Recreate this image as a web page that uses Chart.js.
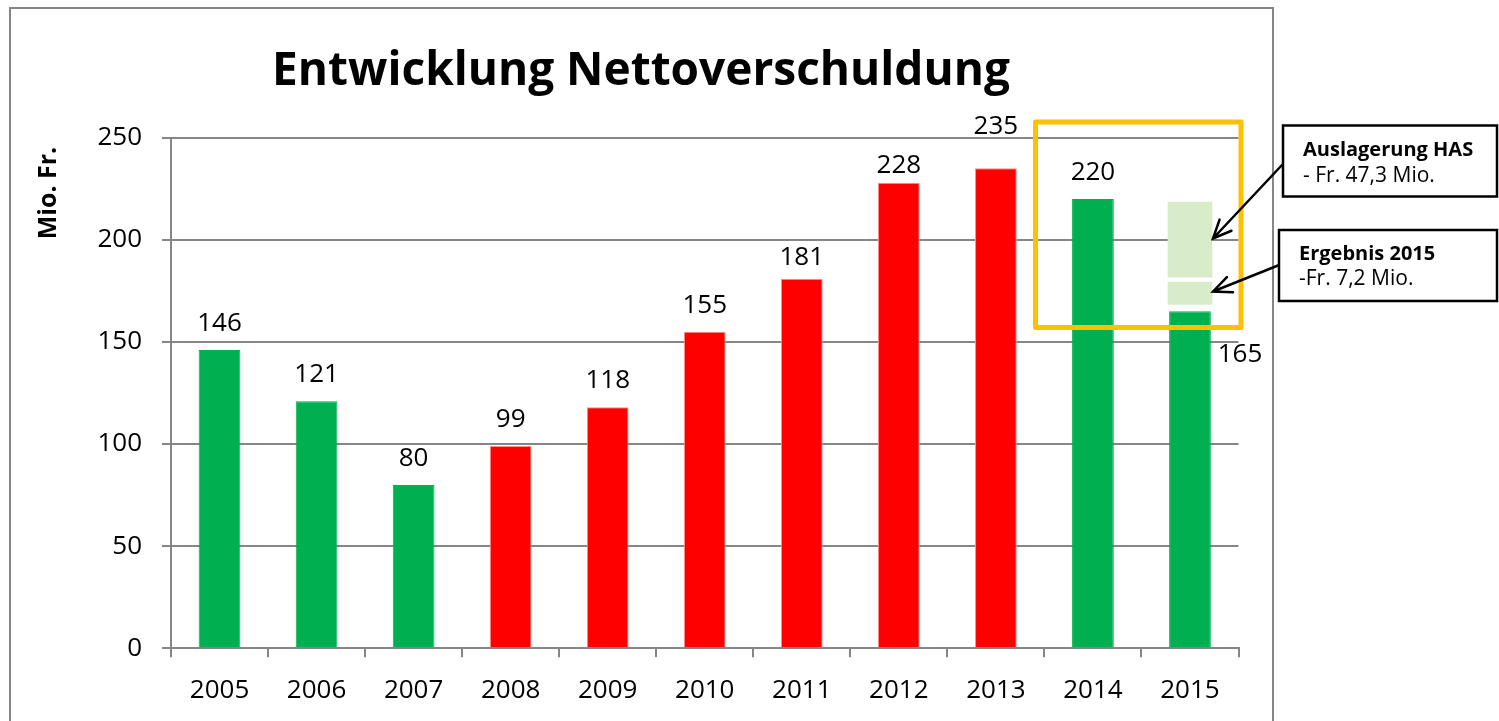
<!DOCTYPE html>
<html><head><meta charset="utf-8">
<script src="https://cdn.jsdelivr.net/npm/chart.js@4.4.0/dist/chart.umd.min.js"></script>
<style>html,body{margin:0;padding:0;background:#fff;overflow:hidden}</style>
</head><body>
<canvas id="c" width="1499" height="721"></canvas>
<script>
// ---- data ----
const years = ['2005','2006','2007','2008','2009','2010','2011','2012','2013','2014','2015'];
const nettoschuld = [146, 121, 80, 99, 118, 155, 181, 228, 235, 220, 165];
const yTicks = [0, 50, 100, 150, 200, 250];
const hasSegment = [181.5, 218.7];       // Auslagerung HAS (2015, light green)
const ergebnisSegment = [168.2, 179.5];  // Ergebnis 2015 (light green)
const titleText = 'Entwicklung Nettoverschuldung';
const yTitle = 'Mio. Fr.';
const note1 = ['Auslagerung HAS', '- Fr. 47,3 Mio.'];
const note2 = ['Ergebnis 2015', '-Fr. 7,2 Mio.'];

// ---- styles ----
const GREEN = '#00B050', RED = '#FF0000', LIGHT = '#D8ECC9', GRID = '#868686', ORANGE = '#FFC000';
const FONT = 'Open Sans';
const barColors = nettoschuld.map((v, i) => (i > 0 && v > nettoschuld[i - 1]) ? RED : GREEN);
const borderColors = barColors.map(c => c === RED ? '#FF8C8C' : GREEN);
const lastIdx = years.length - 1;

const overlay = {
  id: 'overlay',
  beforeDraw(chart) {
    const ctx = chart.ctx;
    ctx.save();
    ctx.fillStyle = '#fff';
    ctx.fillRect(0, 0, chart.width, chart.height);
    ctx.strokeStyle = GRID; ctx.lineWidth = 2;
    ctx.beginPath();
    ctx.moveTo(10, 722); ctx.lineTo(10, 8); ctx.lineTo(1273, 8); ctx.lineTo(1273, 722);
    ctx.stroke();
    ctx.restore();
  },
  afterDatasetsDraw(chart) {
    const ctx = chart.ctx;
    const meta = chart.getDatasetMeta(0);
    const shift = {6: 14, 7: 10, 8: 34};
    ctx.save();
    ctx.fillStyle = '#000';
    ctx.font = '26px "' + FONT + '"';
    ctx.textBaseline = 'alphabetic';
    ctx.textAlign = 'center';
    meta.data.forEach((bar, i) => {
      const txt = String(nettoschuld[i]);
      if (i === lastIdx) {
        ctx.fillText(txt, bar.x + 50, bar.y + 51);
      } else {
        ctx.fillText(txt, bar.x, bar.y - (shift[i] !== undefined ? shift[i] : 19));
      }
    });
    ctx.restore();
  },
  afterDraw(chart) {
    const ctx = chart.ctx;
    ctx.save();
    // title
    ctx.fillStyle = '#000';
    ctx.font = 'bold 46px "' + FONT + '"';
    ctx.textAlign = 'center';
    ctx.textBaseline = 'alphabetic';
    ctx.fillText(titleText, 641, 85);
    // y title
    ctx.save();
    ctx.translate(56, 193);
    ctx.rotate(-Math.PI / 2);
    ctx.font = 'bold 25px "' + FONT + '"';
    ctx.textAlign = 'center';
    ctx.fillText(yTitle, 0, 0);
    ctx.restore();
    // orange box
    ctx.strokeStyle = ORANGE; ctx.lineWidth = 5; ctx.lineJoin = 'round';
    ctx.strokeRect(1035.5, 122, 1241 - 1035.5, 327.5 - 122);
    // note boxes
    ctx.lineJoin = 'miter';
    ctx.strokeStyle = '#000'; ctx.lineWidth = 2.5;
    ctx.fillStyle = '#fff';
    ctx.fillRect(1283, 125.5, 214, 71); ctx.strokeRect(1283, 125.5, 214, 71);
    ctx.fillRect(1279, 230, 218, 71); ctx.strokeRect(1279, 230, 218, 71);
    ctx.fillStyle = '#000';
    ctx.textAlign = 'left';
    ctx.font = 'bold 20px "' + FONT + '"';
    ctx.fillText(note1[0], 1303, 156);
    ctx.fillText(note2[0], 1299, 259.5);
    ctx.font = '21px "' + FONT + '"';
    ctx.fillText(note1[1], 1303, 182);
    ctx.fillText(note2[1], 1299, 285);
    // arrows
    function arrow(x1, y1, x2, y2) {
      const a = Math.atan2(y2 - y1, x2 - x1), L = 20, w = 0.42;
      ctx.beginPath();
      ctx.moveTo(x1, y1); ctx.lineTo(x2, y2);
      ctx.moveTo(x2 - L * Math.cos(a - w), y2 - L * Math.sin(a - w));
      ctx.lineTo(x2, y2);
      ctx.lineTo(x2 - L * Math.cos(a + w), y2 - L * Math.sin(a + w));
      ctx.stroke();
    }
    ctx.strokeStyle = '#000'; ctx.lineWidth = 2.5; ctx.lineCap = 'round';
    arrow(1282, 165, 1213, 238.5);
    arrow(1278, 265.5, 1213, 291.5);
    ctx.restore();
  }
};

new Chart(document.getElementById('c'), {
  type: 'bar',
  data: {
    labels: years,
    datasets: [
      { data: nettoschuld, backgroundColor: barColors, borderColor: borderColors, borderWidth: 1,
        grouped: false, barPercentage: 0.43, categoryPercentage: 1, order: 1 },
      { data: years.map((y, i) => i === lastIdx ? hasSegment : null), backgroundColor: LIGHT,
        grouped: false, barPercentage: 0.46, categoryPercentage: 1, order: 2 },
      { data: years.map((y, i) => i === lastIdx ? ergebnisSegment : null), backgroundColor: LIGHT,
        grouped: false, barPercentage: 0.46, categoryPercentage: 1, order: 3 }
    ]
  },
  options: {
    responsive: false, animation: false, devicePixelRatio: 1,
    layout: { padding: { left: 0, top: 137.7, right: 260.5, bottom: 0 } },
    plugins: { legend: { display: false }, tooltip: { enabled: false }, title: { display: false } },
    scales: {
      x: {
        grid: { offset: true, drawOnChartArea: false, drawTicks: true, tickLength: 9, color: GRID, lineWidth: 2 },
        border: { color: GRID, width: 2 },
        ticks: { font: { family: FONT, size: 26 }, color: '#000', padding: 18, maxRotation: 0 },
        afterFit(s) { s.height = 72.7; }
      },
      y: {
        min: 0, max: 250,
        afterBuildTicks(s) { s.ticks = yTicks.map(v => ({ value: v })); },
        grid: { color: GRID, lineWidth: 2, tickLength: 9 },
        border: { color: GRID, width: 2 },
        ticks: { font: { family: FONT, size: 26 }, color: '#000', padding: 20 },
        afterFit(s) { s.width = 171; }
      }
    }
  },
  plugins: [overlay]
});
</script>
</body></html>
